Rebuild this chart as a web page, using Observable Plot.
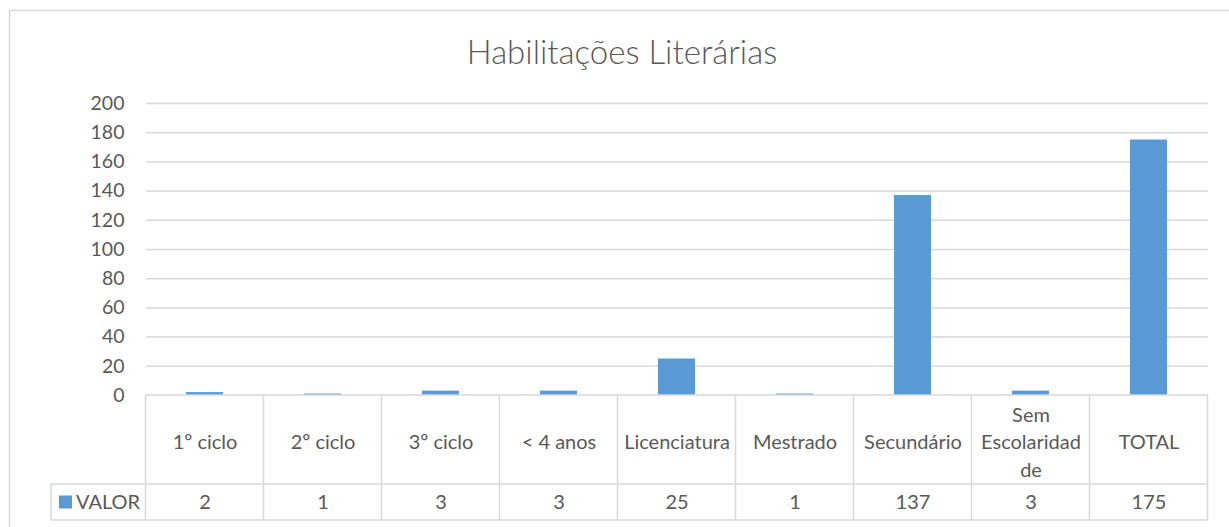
<!DOCTYPE html>
<html>
<head>
<meta charset="utf-8">
<script src="https://cdn.jsdelivr.net/npm/d3@7"></script>
<script src="https://cdn.jsdelivr.net/npm/@observablehq/plot@0.6"></script>
<style>
  html, body { margin: 0; padding: 0; background: #fff; }
  #chart svg { display: block; }
</style>
</head>
<body>
<div id="chart"></div>
<script>
const title = "Habilitações Literárias";
const seriesName = "VALOR";
const categories = ["1º ciclo", "2º ciclo", "3º ciclo", "< 4 anos", "Licenciatura", "Mestrado", "Secundário", "Sem\nEscolaridad\nde", "TOTAL"];
const values = [2, 1, 3, 3, 25, 1, 137, 3, 175];
const yTicks = [0, 20, 40, 60, 80, 100, 120, 140, 160, 180, 200];

const data = categories.map((c, i) => ({cat: c, value: values[i]}));

const W = 1229, H = 527;
const textColor = "#595959";
const lineColor = "#D9D9D9";
const barColor = "#5B9BD5";
const font = "Lato, 'Open Sans', sans-serif";

const plot = Plot.plot({
  width: W,
  height: H,
  marginLeft: 146,
  marginRight: 21,
  marginTop: 103,
  marginBottom: 132,
  style: {fontFamily: font, fontSize: "19px", color: textColor, background: "#fff", overflow: "visible"},
  x: {domain: categories, paddingInner: 0.686, paddingOuter: 0.343, axis: null},
  y: {domain: [0, 200], ticks: yTicks, tickSize: 0, tickPadding: 22, label: null, tickFormat: d => String(d)},
  marks: [
    Plot.gridY(yTicks.filter(t => t > 0), {stroke: lineColor, strokeOpacity: 1, strokeWidth: 1.5}),
    Plot.axisY(yTicks, {tickSize: 0, tickPadding: 22, fontSize: 19.5, fill: textColor, label: null}),
    Plot.barY(data, {x: "cat", y: "value", fill: barColor}),
    // category labels row of the data table
    Plot.text(data, {x: "cat", text: "cat", frameAnchor: "bottom", lineAnchor: "middle", dy: 45, fontSize: 20, fill: textColor, lineHeight: 1.37}),
    // values row of the data table
    Plot.text(data, {x: "cat", text: d => String(d.value), frameAnchor: "bottom", lineAnchor: "middle", dy: 107, fontSize: 20, fill: textColor})
  ]
});

document.getElementById("chart").appendChild(plot);

// Data table grid lines and legend key, positioned from Plot's own x scale
const sx = plot.scale("x");
const step = sx.step;
const bw = sx.bandwidth;
const edges = categories.map(c => sx.apply(c) + bw / 2 - step / 2);
edges.push(sx.apply(categories[categories.length - 1]) + bw / 2 + step / 2);
const left = edges[0], right = edges[edges.length - 1];
const yZero = plot.scale("y").apply(0);
const yMid = yZero + 89, yBot = yZero + 125;
const legendLeft = 51;

const svg = d3.select(plot);
// outer chart border (left and top edges visible)
svg.insert("rect", ":first-child")
  .attr("x", 9.5).attr("y", 10.5).attr("width", W + 20).attr("height", H + 20)
  .attr("fill", "none").attr("stroke", lineColor).attr("stroke-width", 1.5);

const g = svg.append("g").attr("stroke", lineColor).attr("stroke-width", 1.5).attr("fill", "none");
g.append("line").attr("x1", left).attr("x2", right).attr("y1", yZero).attr("y2", yZero);
g.append("line").attr("x1", legendLeft).attr("x2", right).attr("y1", yMid).attr("y2", yMid);
g.append("line").attr("x1", legendLeft).attr("x2", right).attr("y1", yBot).attr("y2", yBot);
g.append("line").attr("x1", legendLeft).attr("x2", legendLeft).attr("y1", yMid).attr("y2", yBot);
edges.forEach(e => g.append("line").attr("x1", e).attr("x2", e).attr("y1", yZero).attr("y2", yBot));

// legend key
svg.append("rect").attr("x", 59).attr("y", (yMid + yBot) / 2 - 6.5).attr("width", 13).attr("height", 13).attr("fill", barColor);
svg.append("text").attr("x", 76).attr("y", (yMid + yBot) / 2).attr("dy", "0.35em").attr("text-anchor", "start")
  .attr("fill", textColor).attr("font-size", 20).attr("font-family", font).text(seriesName);

// title
svg.append("text").attr("x", 622).attr("y", 52).attr("dy", "0.35em").attr("text-anchor", "middle")
  .attr("fill", textColor).attr("font-size", 33).attr("font-weight", 300).attr("font-family", font).text(title);
</script>
</body>
</html>
